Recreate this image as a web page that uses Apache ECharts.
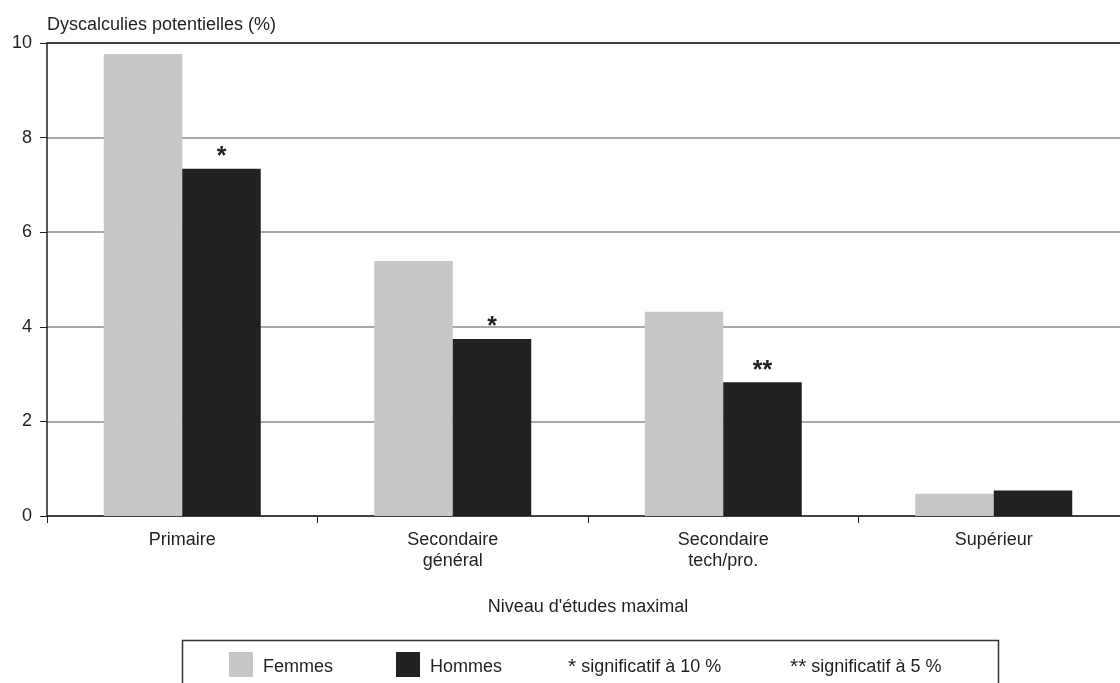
<!DOCTYPE html>
<html>
<head>
<meta charset="utf-8">
<style>
  html, body { margin: 0; padding: 0; background: #fff; }
  #chart { width: 1120px; height: 683px; }
</style>
<script src="https://cdn.jsdelivr.net/npm/echarts@6/dist/echarts.min.js"></script>
</head>
<body>
<div id="chart"></div>
<script>
// Niveau d'études et dyscalculies potentielles, par sexe
const categories = ['Primaire', 'Secondaire\ngénéral', 'Secondaire\ntech/pro.', 'Supérieur'];
const femmes = [9.77, 5.39, 4.32, 0.47];
const hommes = [7.34, 3.74, 2.83, 0.54];
const significance = ['*', '*', '**', ''];
const yTicks = { min: 0, max: 10, interval: 2 };

const FONT = "'Liberation Sans', Arial, Helvetica, sans-serif";
const TEXT = '#231f20';

const chart = echarts.init(document.getElementById('chart'), null, { renderer: 'canvas' });

const legendBase = {
  top: 652, icon: 'rect', padding: 0,
  itemWidth: 24, itemHeight: 25, selectedMode: false,
  formatter: '{n|{name}}',
  textStyle: {
    fontFamily: FONT, fontSize: 18, color: TEXT,
    rich: { n: { fontFamily: FONT, fontSize: 18, color: TEXT, padding: [6, 0, 0, 5] } }
  }
};

const starRich = { s: { fontFamily: FONT, fontSize: 21, fill: TEXT } };

chart.setOption({
  animation: false,
  backgroundColor: '#ffffff',
  textStyle: { fontFamily: FONT, color: TEXT },
  grid: { left: 47, top: 43, width: 1082, bottom: 167, containLabel: false, outerBoundsMode: 'none' },
  legend: [
    Object.assign({ data: ['Femmes'], left: 229 }, legendBase),
    Object.assign({ data: ['Hommes'], left: 396 }, legendBase)
  ],
  xAxis: [
    {
      type: 'category',
      data: categories,
      position: 'bottom',
      name: "Niveau d'études maximal",
      nameLocation: 'middle',
      nameGap: 82,
      nameTextStyle: { fontFamily: FONT, fontSize: 18, color: TEXT },
      axisLine: { show: true, lineStyle: { color: '#231f20', width: 1.5 } },
      axisTick: { show: true, length: 7, alignWithLabel: false, lineStyle: { color: '#231f20', width: 1 } },
      axisLabel: { fontFamily: FONT, fontSize: 18, color: TEXT, margin: 14, lineHeight: 21, interval: 0 },
      splitLine: { show: false }
    },
    {
      type: 'category',
      data: categories,
      position: 'top',
      axisLine: { show: true, lineStyle: { color: '#231f20', width: 1.5 } },
      axisTick: { show: false },
      axisLabel: { show: false },
      splitLine: { show: false }
    }
  ],
  yAxis: {
    type: 'value',
    min: yTicks.min,
    max: yTicks.max,
    interval: yTicks.interval,
    name: 'Dyscalculies potentielles (%)',
    nameLocation: 'end',
    nameGap: 9,
    nameTextStyle: { fontFamily: FONT, fontSize: 18, color: TEXT, align: 'left' },
    axisLine: { show: true, lineStyle: { color: '#231f20', width: 1.5 } },
    axisTick: { show: true, length: 7, lineStyle: { color: '#231f20', width: 1 } },
    axisLabel: { fontFamily: FONT, fontSize: 18, color: TEXT, margin: 15 },
    splitLine: { show: true, lineStyle: { color: '#8a8a8a', width: 1.5 } }
  },
  series: [
    {
      name: 'Femmes',
      type: 'bar',
      data: femmes,
      barWidth: 78.5,
      barGap: '0%',
      itemStyle: { color: '#c6c7c9' },
      z: 3
    },
    {
      name: 'Hommes',
      type: 'bar',
      data: hommes,
      barWidth: 78.5,
      barGap: '0%',
      itemStyle: { color: '#222120' },
      z: 3,
      label: {
        show: true,
        position: 'top',
        distance: -1,
        fontFamily: FONT,
        fontSize: 25,
        fontWeight: 'bold',
        color: TEXT,
        formatter: (p) => significance[p.dataIndex]
      }
    }
  ],
  graphic: [
    {
      type: 'rect',
      left: 180, top: 638,
      shape: { width: 816, height: 60 },
      style: { fill: 'none', stroke: '#333333', lineWidth: 1.5 },
      silent: true
    },
    {
      type: 'text',
      left: 568, top: 657,
      style: {
        text: '{s|*} significatif à 10 %',
        font: "18px 'Liberation Sans', Arial, sans-serif",
        fill: TEXT,
        rich: starRich
      }
    },
    {
      type: 'text',
      left: 790, top: 657,
      style: {
        text: '{s|**} significatif à 5 %',
        font: "18px 'Liberation Sans', Arial, sans-serif",
        fill: TEXT,
        rich: starRich
      }
    }
  ]
});
</script>
</body>
</html>
